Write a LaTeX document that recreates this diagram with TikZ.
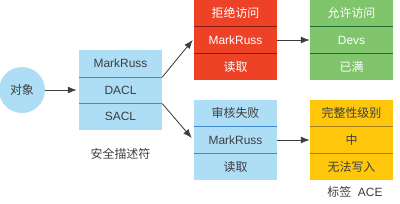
\documentclass[tikz,border=0pt]{standalone}
\usepackage{fontspec}
\setmainfont{Liberation Sans}
\newfontfamily\cjk{Noto Sans CJK SC}
\usetikzlibrary{arrows.meta,positioning}
\definecolor{paleblue}{RGB}{174,221,246}
\definecolor{paleline}{RGB}{66,138,204}
\definecolor{denyred}{RGB}{238,66,38}
\definecolor{denyline}{RGB}{140,28,18}
\definecolor{allowgreen}{RGB}{128,197,108}
\definecolor{allowline}{RGB}{28,108,48}
\definecolor{labelyellow}{RGB}{255,199,12}
\definecolor{labelline}{RGB}{168,128,24}
\definecolor{inkgray}{RGB}{62,62,62}
\tikzset{
  cell/.style={minimum width=20.75mm,minimum height=6.667mm,inner sep=0pt,font=\fontsize{8.5}{10}\selectfont},
  bluecell/.style={cell,fill=paleblue,text=inkgray},
  redcell/.style={cell,fill=denyred,text=white},
  greencell/.style={cell,fill=allowgreen,text=white},
  yellowcell/.style={cell,fill=labelyellow,text=inkgray},
  link/.style={-{Latex[length=2.2mm,width=1.7mm]},inkgray,line width=0.6pt},
}

\begin{document}
\begin{tikzpicture}[x=0.25mm,y=-0.25mm]
  \useasboundingbox (0,0) rectangle (400,203);
  \node[circle,fill=paleblue,minimum size=11.5mm,inner sep=0pt,text=inkgray,font=\cjk\fontsize{8.5}{10}\selectfont] (obj) at (22,90) {对象};
  % security descriptor
  \node[bluecell] (sd1) at (120.5,63.5) {MarkRuss};
  \node[bluecell] (sd2) at (120.5,90) {DACL};
  \node[bluecell] (sd3) at (120.5,116.5) {SACL};
  \node[text=inkgray,font=\cjk\fontsize{8.5}{10}\selectfont] (sdlabel) at (120.5,154) {安全描述符};
  % deny ACE
  \node[redcell] (deny1) at (235.5,13.3) {\cjk 拒绝访问};
  \node[redcell] (deny2) at (235.5,40) {MarkRuss};
  \node[redcell] (deny3) at (235.5,66.7) {\cjk 读取};
  % allow ACE
  \node[greencell] (allow1) at (351.5,13.3) {\cjk 允许访问};
  \node[greencell] (allow2) at (351.5,40) {Devs};
  \node[greencell] (allow3) at (351.5,66.7) {\cjk 已满};
  % audit ACE
  \node[bluecell] (audit1) at (235.5,113.3) {\cjk 审核失败};
  \node[bluecell] (audit2) at (235.5,140) {MarkRuss};
  \node[bluecell] (audit3) at (235.5,166.7) {\cjk 读取};
  % label ACE
  \node[yellowcell] (mand1) at (351.5,113.3) {\cjk 完整性级别};
  \node[yellowcell] (mand2) at (351.5,140) {\cjk 中};
  \node[yellowcell] (mand3) at (351.5,166.7) {\cjk 无法写入};
  \node[text=inkgray,font=\fontsize{8.5}{10}\selectfont] (acelabel) at (355,192) {{\cjk 标签}\ \ ACE};
  % row separators
  \foreach \row/\col in {sd1/paleline,sd2/paleline,deny1/denyline,deny2/denyline,allow1/allowline,allow2/allowline,audit1/paleline,audit2/paleline,mand1/labelline,mand2/labelline} {
    \draw[\col,line width=0.7pt] (\row.south west) -- (\row.south east);
  }
  \draw[link] (obj) -- ([xshift=-0.5mm]sd2.west);
  \draw[link] (sd1.south east) -- ([xshift=-0.25mm]deny2.west);
  \draw[link] (sd2.south east) -- ([xshift=-0.5mm,yshift=0.5mm]audit2.west);
  \draw[link] (deny2) -- (allow2);
  \draw[link] (audit2) -- (mand2);
\end{tikzpicture}
\end{document}
